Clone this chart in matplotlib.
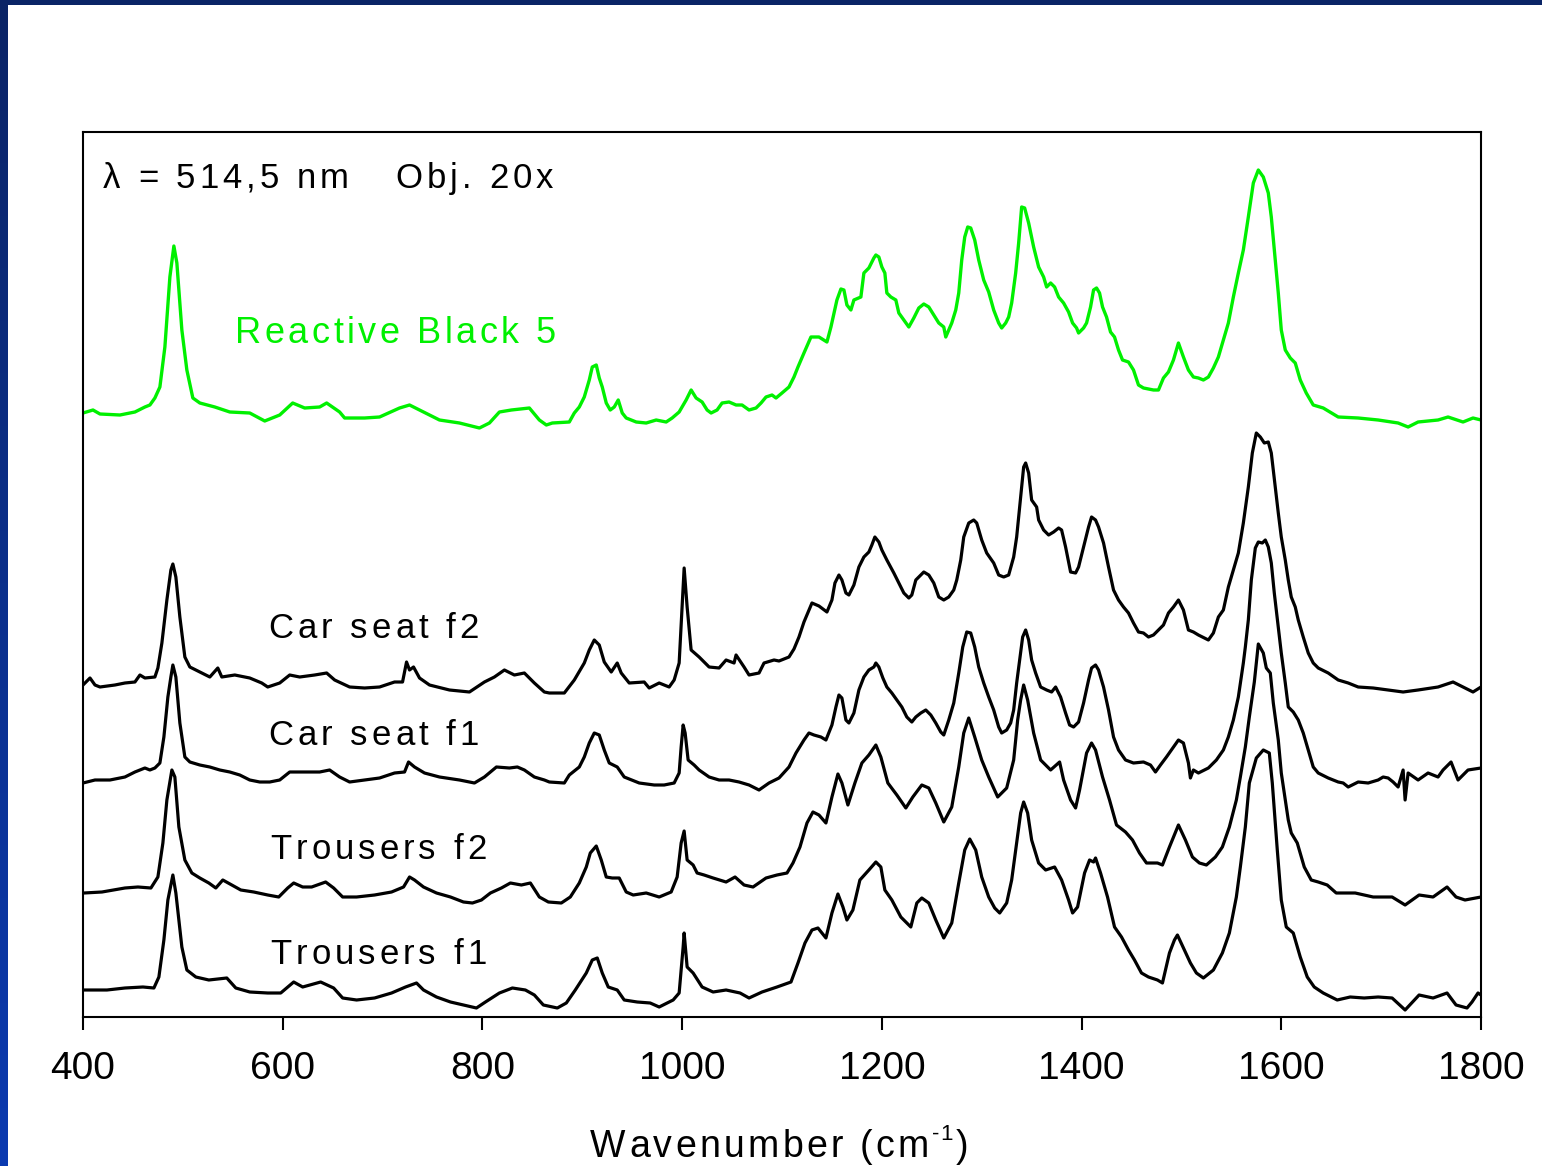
import matplotlib
matplotlib.use('Agg')
import numpy as np
import matplotlib.pyplot as plt
from matplotlib.patches import Rectangle
from matplotlib.transforms import IdentityTransform
from matplotlib.colors import LinearSegmentedColormap

FONT = 'Liberation Sans'
GREEN = '#00f000'

# ---- spectra (wavenumber in cm-1, stacked intensity in a.u.) ----
wn_rb5 = [400, 410, 417, 437, 452, 462, 467, 472, 477, 482,
          487, 491, 494, 499, 504, 510, 517, 532, 547, 567,
          582, 597, 610, 622, 637, 644, 657, 662, 682, 697,
          717, 727, 737, 757, 777, 797, 807, 817, 829, 847,
          857, 864, 870, 887, 892, 897, 902, 907, 910, 914,
          917, 920, 924, 928, 932, 936, 940, 944, 954, 964,
          974, 984, 990, 997, 1004, 1009, 1014, 1020, 1025, 1029,
          1035, 1040, 1047, 1054, 1060, 1067, 1074, 1079, 1084, 1090,
          1094, 1100, 1107, 1112, 1116, 1122, 1129, 1137, 1145, 1149,
          1155, 1159, 1162, 1165, 1169, 1172, 1179, 1182, 1187, 1192,
          1194, 1197, 1200, 1203, 1205, 1209, 1214, 1217, 1222, 1227,
          1232, 1237, 1242, 1247, 1252, 1257, 1262, 1264, 1267, 1270,
          1274, 1277, 1280, 1283, 1286, 1289, 1293, 1297, 1302, 1307,
          1312, 1317, 1320, 1324, 1327, 1330, 1334, 1337, 1340, 1343,
          1347, 1352, 1357, 1362, 1365, 1369, 1373, 1377, 1382, 1387,
          1391, 1395, 1397, 1402, 1405, 1409, 1412, 1415, 1418, 1421,
          1425, 1429, 1433, 1437, 1441, 1447, 1452, 1457, 1462, 1472,
          1477, 1482, 1487, 1492, 1497, 1502, 1507, 1512, 1517, 1522,
          1527, 1532, 1537, 1542, 1547, 1552, 1557, 1562, 1567, 1572,
          1577, 1582, 1587, 1590, 1593, 1597, 1600, 1604, 1609, 1614,
          1619, 1625, 1632, 1642, 1657, 1677, 1697, 1717, 1727, 1737,
          1757, 1767, 1782, 1792, 1800]
rb5 = [604, 607, 603, 602, 605, 610, 612, 619, 630, 670,
       740, 771, 754, 687, 647, 619, 614, 610, 605, 604,
       596, 602, 614, 609, 610, 614, 605, 599, 599, 600,
       609, 612, 607, 597, 594, 589, 594, 605, 607, 609,
       597, 592, 594, 595, 604, 610, 620, 637, 650, 652,
       639, 630, 614, 607, 610, 617, 604, 599, 595, 594,
       597, 595, 599, 605, 617, 627, 619, 615, 607, 604,
       607, 614, 615, 612, 612, 607, 609, 614, 620, 622,
       619, 624, 630, 640, 650, 664, 680, 680, 675, 690,
       717, 728, 727, 712, 707, 717, 720, 744, 749, 759,
       762, 760, 750, 744, 724, 720, 717, 704, 697, 690,
       699, 709, 713, 710, 702, 694, 690, 680, 687, 694,
       707, 724, 757, 780, 790, 789, 777, 757, 737, 725,
       707, 694, 689, 694, 700, 714, 744, 774, 810, 809,
       794, 770, 750, 740, 730, 734, 730, 720, 714, 705,
       694, 689, 684, 689, 694, 710, 727, 729, 724, 710,
       700, 685, 680, 667, 657, 655, 647, 632, 629, 627,
       627, 639, 645, 657, 674, 660, 647, 640, 639, 637,
       640, 649, 660, 677, 694, 720, 744, 767, 800, 834,
       847, 840, 824, 800, 767, 724, 687, 667, 659, 654,
       637, 624, 612, 609, 600, 599, 597, 594, 590, 595,
       597, 600, 595, 599, 597]

wn_cs2 = [400, 407, 412, 417, 432, 442, 452, 457, 462, 472,
          475, 479, 484, 488, 490, 493, 497, 502, 507, 517,
          527, 535, 539, 552, 567, 579, 585, 597, 607, 617,
          632, 644, 652, 667, 682, 697, 712, 720, 724, 727,
          731, 737, 747, 767, 787, 802, 812, 822, 832, 842,
          852, 862, 867, 882, 892, 902, 907, 912, 917, 922,
          929, 935, 939, 947, 962, 967, 977, 987, 992, 997,
          1000, 1002, 1005, 1009, 1017, 1027, 1037, 1044, 1052, 1054,
          1062, 1067, 1077, 1082, 1092, 1097, 1107, 1112, 1117, 1122,
          1127, 1130, 1137, 1145, 1150, 1153, 1157, 1160, 1164, 1167,
          1172, 1177, 1182, 1187, 1190, 1193, 1197, 1200, 1205, 1212,
          1217, 1222, 1227, 1230, 1234, 1239, 1242, 1247, 1252, 1257,
          1262, 1267, 1272, 1275, 1279, 1282, 1287, 1292, 1295, 1300,
          1305, 1312, 1317, 1322, 1327, 1332, 1335, 1338, 1342, 1344,
          1347, 1350, 1355, 1357, 1362, 1367, 1372, 1377, 1380, 1384,
          1389, 1394, 1397, 1402, 1407, 1410, 1414, 1417, 1422, 1427,
          1432, 1437, 1442, 1447, 1452, 1457, 1462, 1467, 1472, 1477,
          1482, 1487, 1492, 1497, 1502, 1507, 1512, 1517, 1527, 1532,
          1537, 1542, 1547, 1552, 1557, 1562, 1567, 1571, 1575, 1579,
          1583, 1587, 1590, 1594, 1597, 1600, 1604, 1607, 1610, 1614,
          1617, 1622, 1627, 1632, 1637, 1647, 1657, 1667, 1677, 1692,
          1707, 1722, 1737, 1757, 1772, 1782, 1792, 1800]
cs2 = [332, 339, 332, 330, 332, 334, 335, 342, 339, 340,
       349, 374, 417, 447, 453, 440, 400, 360, 350, 345,
       340, 349, 340, 342, 339, 334, 330, 334, 342, 340,
       342, 344, 337, 330, 329, 330, 335, 335, 355, 347,
       350, 339, 332, 327, 325, 335, 340, 347, 342, 344,
       334, 325, 324, 324, 337, 354, 367, 377, 372, 355,
       345, 354, 344, 334, 335, 329, 334, 330, 337, 354,
       410, 449, 410, 367, 360, 350, 349, 357, 354, 362,
       350, 342, 344, 354, 357, 356, 360, 368, 380, 395,
       407, 414, 411, 405, 417, 434, 442, 437, 424, 422,
       432, 450, 460, 465, 472, 480, 475, 467, 457, 444,
       434, 424, 419, 422, 437, 442, 445, 442, 434, 420,
       417, 420, 427, 437, 457, 480, 494, 497, 494, 477,
       464, 454, 442, 440, 442, 460, 480, 510, 550, 554,
       544, 517, 510, 497, 487, 482, 485, 489, 487, 470,
       445, 444, 450, 470, 490, 500, 497, 490, 474, 450,
       427, 417, 410, 404, 394, 385, 384, 380, 382, 387,
       392, 404, 410, 417, 407, 387, 385, 382, 377, 384,
       400, 407, 430, 447, 464, 494, 530, 564, 584, 580,
       574, 575, 564, 530, 504, 480, 457, 437, 420, 410,
       397, 380, 364, 354, 349, 344, 337, 334, 330, 329,
       327, 325, 327, 330, 335, 330, 325, 330]

wn_cs1 = [400, 412, 427, 442, 452, 462, 467, 472, 477, 481,
          485, 488, 490, 493, 497, 502, 507, 517, 527, 537,
          547, 557, 567, 577, 587, 597, 607, 617, 637, 647,
          657, 667, 682, 697, 712, 722, 726, 732, 742, 757,
          777, 792, 802, 814, 827, 835, 842, 852, 862, 867,
          882, 887, 897, 902, 907, 912, 917, 922, 927, 935,
          942, 957, 972, 982, 992, 997, 999, 1001, 1003, 1006,
          1012, 1017, 1027, 1037, 1047, 1057, 1067, 1077, 1087, 1097,
          1107, 1114, 1122, 1127, 1132, 1139, 1144, 1150, 1154, 1157,
          1160, 1164, 1167, 1172, 1177, 1182, 1187, 1192, 1194, 1197,
          1201, 1205, 1210, 1215, 1220, 1225, 1230, 1234, 1239, 1244,
          1249, 1254, 1259, 1262, 1267, 1272, 1277, 1281, 1285, 1289,
          1293, 1297, 1302, 1307, 1312, 1317, 1320, 1325, 1329, 1332,
          1335, 1338, 1341, 1344, 1347, 1350, 1354, 1359, 1365, 1370,
          1374, 1379, 1384, 1388, 1392, 1397, 1402, 1407, 1410, 1414,
          1417, 1422, 1427, 1432, 1437, 1444, 1452, 1462, 1469, 1474,
          1479, 1485, 1492, 1497, 1502, 1507, 1509, 1512, 1517, 1527,
          1535, 1542, 1547, 1552, 1557, 1562, 1564, 1567, 1570, 1574,
          1577, 1581, 1584, 1587, 1590, 1593, 1597, 1600, 1604, 1607,
          1612, 1617, 1622, 1627, 1632, 1637, 1647, 1657, 1662, 1667,
          1677, 1687, 1697, 1702, 1707, 1712, 1717, 1722, 1724, 1727,
          1737, 1747, 1757, 1762, 1770, 1777, 1787, 1800]
cs1 = [234, 237, 237, 240, 245, 249, 247, 249, 254, 280,
       320, 340, 352, 340, 294, 260, 255, 252, 250, 247,
       245, 242, 237, 235, 235, 237, 245, 245, 245, 247,
       240, 235, 237, 239, 244, 245, 255, 250, 244, 240,
       237, 234, 240, 250, 249, 250, 247, 240, 237, 235,
       234, 242, 250, 260, 274, 284, 282, 267, 254, 250,
       240, 234, 232, 232, 234, 244, 270, 292, 284, 257,
       252, 247, 240, 237, 237, 235, 232, 227, 234, 239,
       250, 264, 277, 284, 282, 280, 277, 292, 310, 322,
       319, 297, 294, 304, 327, 340, 347, 350, 354, 350,
       339, 330, 324, 317, 310, 300, 295, 300, 304, 307,
       302, 294, 285, 282, 297, 314, 344, 370, 385, 384,
       370, 350, 334, 320, 307, 290, 284, 287, 294, 307,
       334, 357, 380, 387, 377, 357, 344, 330, 327, 325,
       330, 320, 304, 292, 290, 295, 314, 337, 349, 352,
       347, 330, 307, 280, 267, 257, 254, 255, 252, 245,
       252, 260, 270, 277, 274, 254, 239, 247, 244, 249,
       257, 267, 280, 297, 320, 354, 370, 397, 437, 469,
       475, 474, 477, 470, 454, 424, 390, 364, 334, 310,
       305, 297, 284, 267, 250, 244, 239, 235, 234, 230,
       235, 234, 237, 240, 239, 235, 230, 247, 217, 244,
       237, 244, 240, 247, 255, 237, 247, 249]

wn_tr2 = [401, 419, 442, 455, 468, 475, 480, 484, 489, 492,
          496, 502, 509, 517, 526, 533, 540, 549, 558, 571,
          585, 596, 605, 611, 620, 629, 643, 651, 660, 674,
          692, 709, 721, 727, 732, 741, 754, 768, 781, 790,
          799, 808, 819, 828, 839, 848, 857, 866, 879, 888,
          897, 904, 908, 914, 919, 924, 930, 937, 944, 951,
          964, 977, 989, 995, 999, 1002, 1005, 1011, 1015, 1022,
          1031, 1044, 1053, 1062, 1071, 1084, 1095, 1105, 1111, 1118,
          1125, 1131, 1137, 1144, 1150, 1156, 1160, 1166, 1173, 1180,
          1187, 1194, 1199, 1206, 1215, 1224, 1231, 1240, 1247, 1254,
          1262, 1270, 1277, 1282, 1287, 1293, 1300, 1307, 1316, 1325,
          1332, 1336, 1339, 1342, 1346, 1352, 1359, 1369, 1378, 1382,
          1389, 1394, 1398, 1405, 1410, 1414, 1421, 1428, 1435, 1444,
          1451, 1458, 1465, 1476, 1481, 1488, 1497, 1504, 1511, 1518,
          1525, 1534, 1541, 1548, 1555, 1559, 1564, 1568, 1573, 1577,
          1582, 1585, 1589, 1592, 1597, 1600, 1607, 1610, 1616, 1623,
          1630, 1637, 1646, 1655, 1674, 1692, 1711, 1724, 1738, 1752,
          1766, 1775, 1784, 1800]
tr2 = [124, 125, 129, 130, 129, 140, 174, 217, 247, 240,
       190, 157, 144, 139, 134, 129, 137, 132, 127, 125,
       122, 120, 129, 134, 130, 130, 135, 129, 120, 120,
       122, 125, 130, 140, 137, 130, 124, 120, 115, 114,
       117, 124, 129, 134, 132, 134, 120, 115, 114, 120,
       134, 150, 164, 171, 157, 140, 139, 139, 125, 122,
       124, 120, 125, 140, 174, 186, 157, 152, 144, 142,
       139, 135, 140, 132, 130, 139, 142, 144, 154, 170,
       194, 205, 202, 194, 220, 243, 234, 212, 234, 254,
       262, 272, 260, 234, 222, 209, 220, 232, 229, 214,
       195, 210, 250, 284, 299, 280, 257, 240, 220, 229,
       257, 297, 317, 332, 317, 284, 257, 247, 255, 237,
       217, 209, 227, 264, 274, 267, 240, 217, 192, 185,
       177, 164, 154, 154, 152, 170, 192, 177, 160, 154,
       152, 160, 170, 190, 217, 240, 270, 300, 335, 373,
       364, 349, 344, 314, 277, 244, 197, 184, 174, 150,
       137, 135, 132, 124, 124, 120, 120, 112, 122, 120,
       130, 120, 117, 120]

wn_tr1 = [401, 424, 442, 460, 471, 476, 481, 485, 490, 493,
          499, 504, 513, 526, 544, 553, 567, 585, 598, 611,
          620, 638, 651, 660, 674, 692, 709, 723, 734, 741,
          754, 768, 781, 794, 803, 817, 830, 843, 852, 861,
          875, 884, 893, 904, 910, 915, 920, 926, 935, 942,
          955, 968, 977, 991, 997, 1001, 1002, 1005, 1011, 1020,
          1031, 1044, 1058, 1067, 1080, 1095, 1109, 1116, 1123, 1130,
          1136, 1144, 1150, 1156, 1161, 1165, 1171, 1178, 1187, 1194,
          1199, 1203, 1210, 1219, 1229, 1235, 1240, 1247, 1254, 1262,
          1270, 1277, 1283, 1288, 1294, 1300, 1307, 1313, 1318, 1325,
          1330, 1334, 1339, 1342, 1346, 1350, 1357, 1364, 1373, 1380,
          1387, 1391, 1396, 1403, 1408, 1412, 1414, 1419, 1426, 1433,
          1440, 1447, 1453, 1460, 1467, 1476, 1481, 1488, 1493, 1496,
          1502, 1509, 1515, 1522, 1532, 1541, 1548, 1555, 1559, 1564,
          1568, 1575, 1582, 1588, 1591, 1596, 1600, 1605, 1612, 1619,
          1626, 1633, 1642, 1656, 1669, 1683, 1697, 1711, 1724, 1738,
          1752, 1766, 1775, 1786, 1791, 1797, 1800]
tr1 = [27, 27, 29, 30, 29, 40, 77, 117, 142, 124,
       70, 47, 40, 37, 39, 29, 25, 24, 24, 35,
       30, 35, 29, 19, 17, 19, 24, 30, 34, 27,
       20, 15, 12, 9, 15, 24, 29, 27, 22, 12,
       9, 14, 27, 44, 57, 59, 44, 30, 27, 17,
       15, 14, 10, 17, 24, 70, 84, 50, 44, 30,
       25, 27, 24, 19, 25, 30, 35, 54, 74, 87,
       89, 79, 104, 123, 110, 97, 107, 137, 147, 155,
       150, 127, 117, 100, 90, 114, 119, 114, 97, 79,
       94, 134, 167, 178, 167, 140, 120, 109, 104, 114,
       137, 167, 204, 215, 204, 177, 154, 147, 150, 137,
       117, 104, 110, 144, 157, 155, 159, 144, 120, 90,
       80, 67, 57, 44, 40, 37, 34, 64, 77, 82,
       69, 54, 44, 39, 47, 64, 84, 120, 150, 190,
       234, 259, 267, 264, 234, 167, 117, 90, 84, 60,
       40, 30, 24, 17, 20, 19, 20, 19, 7, 22,
       19, 24, 12, 9, 15, 24, 22]

xticks = [400, 600, 800, 1000, 1200, 1400, 1600, 1800]

W, H = 1542, 1166
fig = plt.figure(figsize=(W / 100, H / 100), dpi=100)
fig.patch.set_facecolor('white')

# navy slide border (left strip with gradient, thin top strip)
bax = fig.add_axes([0, 0, 7 / W, 1])
bax.imshow(np.linspace(0, 1, 200)[:, None], aspect='auto',
           cmap=LinearSegmentedColormap.from_list('navy', ['#0a2466', '#0a3ab0']))
bax.axis('off')
fig.add_artist(Rectangle((0, 1 - 5 / H), 1, 5 / H, transform=fig.transFigure,
                         facecolor='#0a2466', edgecolor='none'))

ax = fig.add_axes([83 / W, 1 - 1017 / H, 1398 / W, 885 / H])
ax.plot(wn_rb5, rb5, color=GREEN, lw=2.4)
for wn, sp in [(wn_cs2, cs2), (wn_cs1, cs1), (wn_tr2, tr2), (wn_tr1, tr1)]:
    ax.plot(wn, sp, color='black', lw=2.3)

ax.set_xlim(400, 1800)
ax.set_ylim(0, 885)
ax.set_yticks([])
ax.set_xticks(xticks)
ax.set_xticklabels([str(t) for t in xticks], fontsize=28, family=FONT)
ax.tick_params(axis='x', direction='out', length=9.5, width=1.5, pad=15)
for s in ax.spines.values():
    s.set_linewidth(1.5)

renderer = fig.canvas.get_renderer()


def text_w(t, size):
    tmp = fig.text(0, 0, t, fontsize=size, family=FONT)
    w = tmp.get_window_extent(renderer).width
    tmp.remove()
    return w


def spaced(px, py, s, size, track, color='black'):
    # no letter-spacing in matplotlib, so glyphs are placed one at a time
    bars = text_w('||', size)
    for ch in s:
        fig.text(px, py, ch, fontsize=size, family=FONT, color=color,
                 transform=IdentityTransform(), ha='left', va='baseline')
        px += text_w('|' + ch + '|', size) - bars + track
    return px


def at(x, y):
    return ax.transData.transform((x, y))


spaced(*at(420, 829), 'λ = 514,5 nm', 25, 4)
spaced(*at(713, 829), 'Obj. 20x', 25, 4)
spaced(*at(552, 674), 'Reactive Black 5', 26, 3.5, color=GREEN)
spaced(*at(586, 379), 'Car seat f2', 25, 4)
spaced(*at(586, 272), 'Car seat f1', 25, 4)
spaced(*at(588, 158), 'Trousers f2', 25, 4)
spaced(*at(588, 53), 'Trousers f1', 25, 4)

# x label with superscript
lx, ly = at(908, -140)
lx = spaced(lx, ly, 'Wavenumber (cm', 27, 3.3)
lx = spaced(lx, ly + 17, '-1', 16, 1)
spaced(lx + 2, ly, ')', 27, 3)

fig.savefig('out.png', dpi=100, facecolor='white')
